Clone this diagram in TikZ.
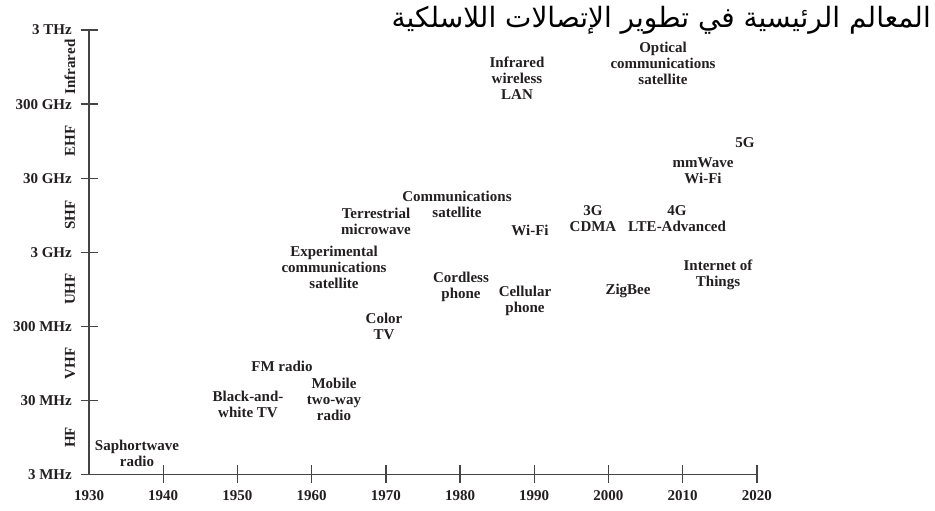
\documentclass[tikz,border=0pt]{standalone}
\usepackage{fontspec}
\setmainfont{Liberation Serif}
\newfontfamily\arabicfont[Script=Arabic]{DejaVu Sans}
\TeXXeTstate=1
\definecolor{ink}{HTML}{231F20}
\definecolor{axisc}{HTML}{444444}
\begin{document}
\begin{tikzpicture}[x=1pt,y=-1pt,
  lbl/.style={font=\bfseries\fontsize{15}{16}\selectfont, text=ink, align=center, inner sep=0pt},
  ytl/.style={font=\bfseries\fontsize{15}{16}\selectfont, text=ink, anchor=east, inner sep=0pt},
  xtl/.style={font=\bfseries\fontsize{15}{16}\selectfont, text=ink, inner sep=0pt},
  band/.style={font=\bfseries\fontsize{15}{16}\selectfont, text=ink, rotate=90, inner sep=0pt},
  axisline/.style={draw=axisc, line width=1.8pt},
  tickline/.style={draw=axisc, line width=1.4pt}]
\useasboundingbox (0,0) rectangle (935,511);
% axes
\coordinate (top) at (89,30);
\coordinate (orig) at (89,474.5);
\coordinate (right) at (757,474.5);
\draw[axisline] (top) -- (orig) -- (right);
% y ticks
\foreach \y/\t [count=\i] in {30/3 THz,104.2/300 GHz,178.3/30 GHz,252.4/3 GHz,326.5/300 MHz,400.5/30 MHz,474.5/3 MHz}{
  \coordinate (yt\i) at (89,\y);
  \draw[tickline] ([xshift=-8.5pt]yt\i) -- ([xshift=9pt]yt\i);
  \node[ytl] (ylab\i) at (72,\y) {\t};
}
% band labels
\foreach \y/\t [count=\i] in {67/Infrared,141/EHF,215/SHF,289/UHF,363.5/VHF,437.5/HF}{
  \node[band] (band\i) at (70,\y) {\t};
}
% x ticks
\foreach \x/\t [count=\i] in {89/1930,163.2/1940,237.4/1950,311.6/1960,385.8/1970,460/1980,534.2/1990,608.4/2000,682.6/2010,756.8/2020}{
  \coordinate (xt\i) at (\x,474.5);
  \ifnum\i>1 \draw[tickline] ([yshift=-8.5pt]xt\i) -- ([yshift=9.5pt]xt\i);\fi
  \node[xtl] (xlab\i) at (\x,496) {\t};
}
% title
\node[font=\arabicfont\fontsize{28}{32}\selectfont, text=black, inner sep=0pt, anchor=base east] (title) at (931,28) {\beginR المعالم الرئيسية في تطوير الإتصالات اللاسلكية\endR};
% milestones
\node[lbl] (shortwave) at (137,453) {Saphortwave\\radio};
\node[lbl] (bw) at (248,404) {Black-and-\\white TV};
\node[lbl] (fm) at (282,366) {FM radio};
\node[lbl] (mobile) at (334,399) {Mobile\\two-way\\radio};
\node[lbl] (color) at (384,326) {Color\\TV};
\node[lbl] (expsat) at (334,267) {Experimental\\communications\\satellite};
\node[lbl] (terr) at (376,221) {Terrestrial\\microwave};
\node[lbl] (commsat) at (457,204) {Communications\\satellite};
\node[lbl] (wifi) at (530,230) {Wi-Fi};
\node[lbl] (cordless) at (461,287) {Cordless\\phone};
\node[lbl] (cell) at (525,301) {Cellular\\phone};
\node[lbl] (g3) at (593,219) {3G\\CDMA};
\node[lbl] (g4) at (677,219) {4G\\LTE-Advanced};
\node[lbl] (zig) at (628,291) {ZigBee};
\node[lbl] (iot) at (718,275) {Internet of\\Things};
\node[lbl] (g5) at (745,143) {5G};
\node[lbl] (mmw) at (703,171) {mmWave\\Wi-Fi};
\node[lbl] (irlan) at (517,78.5) {Infrared\\wireless\\LAN};
\node[lbl] (optsat) at (663,63) {Optical\\communications\\satellite};
\end{tikzpicture}
\end{document}
